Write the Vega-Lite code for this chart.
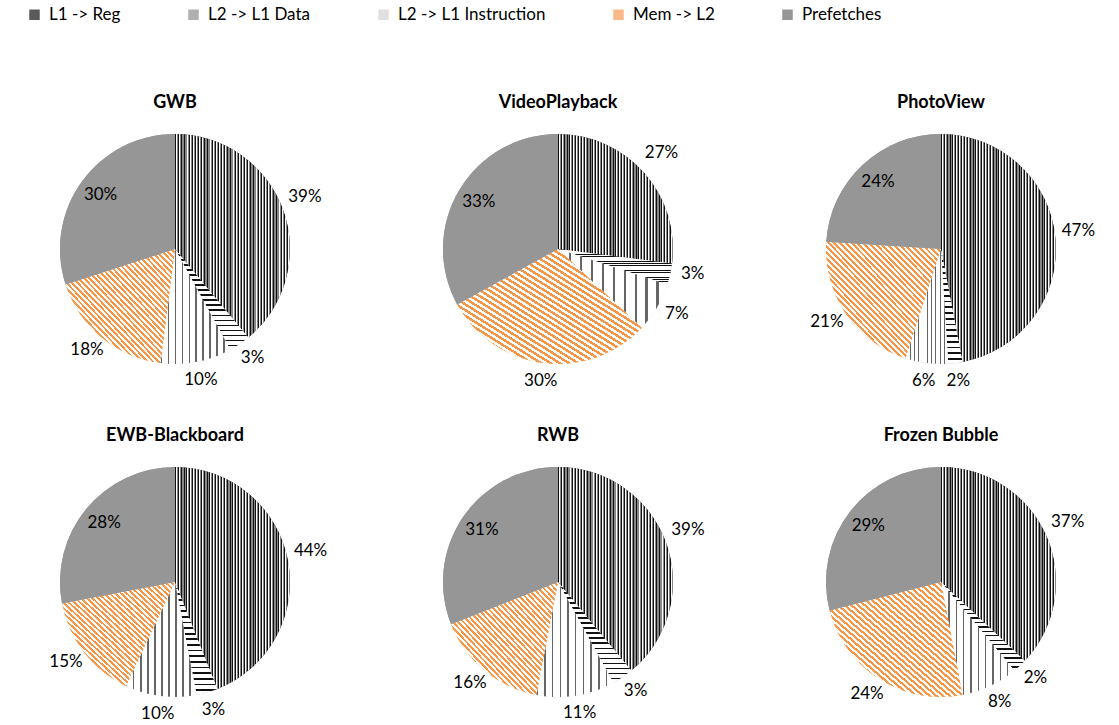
{
"$schema": "https://vega.github.io/schema/vega-lite/v6.json",
"padding": {"left": 15, "top": 6, "right": 5, "bottom": 5},
"bounds": "flush",
"config": {"view": {"stroke": null}, "font": "Lato"},
"data": {"values": [
{"chart":"GWB","type":"L1 -> Reg","pct":0.39},
{"chart":"GWB","type":"L2 -> L1 Data","pct":0.03},
{"chart":"GWB","type":"L2 -> L1 Instruction","pct":0.10},
{"chart":"GWB","type":"Mem -> L2","pct":0.18},
{"chart":"GWB","type":"Prefetches","pct":0.30},
{"chart":"VideoPlayback","type":"L1 -> Reg","pct":0.27},
{"chart":"VideoPlayback","type":"L2 -> L1 Data","pct":0.03},
{"chart":"VideoPlayback","type":"L2 -> L1 Instruction","pct":0.07},
{"chart":"VideoPlayback","type":"Mem -> L2","pct":0.30},
{"chart":"VideoPlayback","type":"Prefetches","pct":0.33},
{"chart":"PhotoView","type":"L1 -> Reg","pct":0.47},
{"chart":"PhotoView","type":"L2 -> L1 Data","pct":0.02},
{"chart":"PhotoView","type":"L2 -> L1 Instruction","pct":0.06},
{"chart":"PhotoView","type":"Mem -> L2","pct":0.21},
{"chart":"PhotoView","type":"Prefetches","pct":0.24},
{"chart":"EWB-Blackboard","type":"L1 -> Reg","pct":0.44},
{"chart":"EWB-Blackboard","type":"L2 -> L1 Data","pct":0.03},
{"chart":"EWB-Blackboard","type":"L2 -> L1 Instruction","pct":0.10},
{"chart":"EWB-Blackboard","type":"Mem -> L2","pct":0.15},
{"chart":"EWB-Blackboard","type":"Prefetches","pct":0.28},
{"chart":"RWB","type":"L1 -> Reg","pct":0.39},
{"chart":"RWB","type":"L2 -> L1 Data","pct":0.03},
{"chart":"RWB","type":"L2 -> L1 Instruction","pct":0.11},
{"chart":"RWB","type":"Mem -> L2","pct":0.16},
{"chart":"RWB","type":"Prefetches","pct":0.31},
{"chart":"Frozen Bubble","type":"L1 -> Reg","pct":0.37},
{"chart":"Frozen Bubble","type":"L2 -> L1 Data","pct":0.02},
{"chart":"Frozen Bubble","type":"L2 -> L1 Instruction","pct":0.08},
{"chart":"Frozen Bubble","type":"Mem -> L2","pct":0.24},
{"chart":"Frozen Bubble","type":"Prefetches","pct":0.29}
]},
"facet": {"field": "chart", "type": "nominal", "sort": ["GWB","VideoPlayback","PhotoView","EWB-Blackboard","RWB","Frozen Bubble"],
  "header": {"title": null, "labelFont": "Lato", "labelFontSize": 18, "labelFontWeight": "bold", "labelColor": "#000", "labelPadding": 6}},
"columns": 3,
"spacing": {"column": 63, "row": 71},
"spec": {
"width": 320, "height": 262,
"encoding": {
  "theta": {"field": "pct", "type": "quantitative", "stack": true},
  "order": {"field": "type", "type": "ordinal", "sort": "ascending"}
},
"layer": [
{"mark": {"type": "arc", "outerRadius": 115},
 "encoding": {"fill": {"field": "type", "type": "nominal",
  "scale": {"domain": ["L1 -> Reg","L2 -> L1 Data","L2 -> L1 Instruction","Mem -> L2","Prefetches"],
   "range": ["#5a5a5a","#b0b0b0","#e0e0e0","#F9B888","#969696"]},
  "legend": {"title": null, "orient": "none", "legendX": 11, "legendY": -112, "direction": "horizontal",
   "symbolType": "square", "symbolSize": 110, "symbolStrokeWidth": 0, "labelFont": "Lato", "labelFontSize": 17,
   "labelColor": "#000", "columnPadding": 64, "labelOffset": 6, "padding": 0}}}},
{"mark": {"type": "arc", "outerRadius": 115},
 "encoding": {"detail": {"field": "type"},
  "fill": {"condition": [
{"test": "datum.type === 'L1 -> Reg'", "value": {"gradient":"linear","x1":0,"y1":0,"x2":1,"y2":0,"stops":[
{"offset":0,"color":"#111"},{"offset":0.008,"color":"#111"},{"offset":0.008,"color":"#fff"},{"offset":0.015,"color":"#fff"},{"offset":0.015,"color":"#888"},{"offset":0.025,"color":"#888"},
{"offset":0.025,"color":"#111"},{"offset":0.033,"color":"#111"},{"offset":0.033,"color":"#fff"},{"offset":0.04,"color":"#fff"},{"offset":0.04,"color":"#888"},{"offset":0.05,"color":"#888"},
{"offset":0.05,"color":"#111"},{"offset":0.058,"color":"#111"},{"offset":0.058,"color":"#fff"},{"offset":0.065,"color":"#fff"},{"offset":0.065,"color":"#888"},{"offset":0.075,"color":"#888"},
{"offset":0.075,"color":"#111"},{"offset":0.083,"color":"#111"},{"offset":0.083,"color":"#fff"},{"offset":0.09,"color":"#fff"},{"offset":0.09,"color":"#888"},{"offset":0.1,"color":"#888"},
{"offset":0.1,"color":"#111"},{"offset":0.108,"color":"#111"},{"offset":0.108,"color":"#fff"},{"offset":0.115,"color":"#fff"},{"offset":0.115,"color":"#888"},{"offset":0.125,"color":"#888"},
{"offset":0.125,"color":"#111"},{"offset":0.133,"color":"#111"},{"offset":0.133,"color":"#fff"},{"offset":0.14,"color":"#fff"},{"offset":0.14,"color":"#888"},{"offset":0.15,"color":"#888"},
{"offset":0.15,"color":"#111"},{"offset":0.158,"color":"#111"},{"offset":0.158,"color":"#fff"},{"offset":0.165,"color":"#fff"},{"offset":0.165,"color":"#888"},{"offset":0.175,"color":"#888"},
{"offset":0.175,"color":"#111"},{"offset":0.183,"color":"#111"},{"offset":0.183,"color":"#fff"},{"offset":0.19,"color":"#fff"},{"offset":0.19,"color":"#888"},{"offset":0.2,"color":"#888"},
{"offset":0.2,"color":"#111"},{"offset":0.208,"color":"#111"},{"offset":0.208,"color":"#fff"},{"offset":0.215,"color":"#fff"},{"offset":0.215,"color":"#888"},{"offset":0.225,"color":"#888"},
{"offset":0.225,"color":"#111"},{"offset":0.233,"color":"#111"},{"offset":0.233,"color":"#fff"},{"offset":0.24,"color":"#fff"},{"offset":0.24,"color":"#888"},{"offset":0.25,"color":"#888"},
{"offset":0.25,"color":"#111"},{"offset":0.258,"color":"#111"},{"offset":0.258,"color":"#fff"},{"offset":0.265,"color":"#fff"},{"offset":0.265,"color":"#888"},{"offset":0.275,"color":"#888"},
{"offset":0.275,"color":"#111"},{"offset":0.283,"color":"#111"},{"offset":0.283,"color":"#fff"},{"offset":0.29,"color":"#fff"},{"offset":0.29,"color":"#888"},{"offset":0.3,"color":"#888"},
{"offset":0.3,"color":"#111"},{"offset":0.308,"color":"#111"},{"offset":0.308,"color":"#fff"},{"offset":0.315,"color":"#fff"},{"offset":0.315,"color":"#888"},{"offset":0.325,"color":"#888"},
{"offset":0.325,"color":"#111"},{"offset":0.333,"color":"#111"},{"offset":0.333,"color":"#fff"},{"offset":0.34,"color":"#fff"},{"offset":0.34,"color":"#888"},{"offset":0.35,"color":"#888"},
{"offset":0.35,"color":"#111"},{"offset":0.358,"color":"#111"},{"offset":0.358,"color":"#fff"},{"offset":0.365,"color":"#fff"},{"offset":0.365,"color":"#888"},{"offset":0.375,"color":"#888"},
{"offset":0.375,"color":"#111"},{"offset":0.383,"color":"#111"},{"offset":0.383,"color":"#fff"},{"offset":0.39,"color":"#fff"},{"offset":0.39,"color":"#888"},{"offset":0.4,"color":"#888"},
{"offset":0.4,"color":"#111"},{"offset":0.408,"color":"#111"},{"offset":0.408,"color":"#fff"},{"offset":0.415,"color":"#fff"},{"offset":0.415,"color":"#888"},{"offset":0.425,"color":"#888"},
{"offset":0.425,"color":"#111"},{"offset":0.433,"color":"#111"},{"offset":0.433,"color":"#fff"},{"offset":0.44,"color":"#fff"},{"offset":0.44,"color":"#888"},{"offset":0.45,"color":"#888"},
{"offset":0.45,"color":"#111"},{"offset":0.458,"color":"#111"},{"offset":0.458,"color":"#fff"},{"offset":0.465,"color":"#fff"},{"offset":0.465,"color":"#888"},{"offset":0.475,"color":"#888"},
{"offset":0.475,"color":"#111"},{"offset":0.483,"color":"#111"},{"offset":0.483,"color":"#fff"},{"offset":0.49,"color":"#fff"},{"offset":0.49,"color":"#888"},{"offset":0.5,"color":"#888"},
{"offset":0.5,"color":"#111"},{"offset":0.508,"color":"#111"},{"offset":0.508,"color":"#fff"},{"offset":0.515,"color":"#fff"},{"offset":0.515,"color":"#888"},{"offset":0.525,"color":"#888"},
{"offset":0.525,"color":"#111"},{"offset":0.533,"color":"#111"},{"offset":0.533,"color":"#fff"},{"offset":0.54,"color":"#fff"},{"offset":0.54,"color":"#888"},{"offset":0.55,"color":"#888"},
{"offset":0.55,"color":"#111"},{"offset":0.558,"color":"#111"},{"offset":0.558,"color":"#fff"},{"offset":0.565,"color":"#fff"},{"offset":0.565,"color":"#888"},{"offset":0.575,"color":"#888"},
{"offset":0.575,"color":"#111"},{"offset":0.583,"color":"#111"},{"offset":0.583,"color":"#fff"},{"offset":0.59,"color":"#fff"},{"offset":0.59,"color":"#888"},{"offset":0.6,"color":"#888"},
{"offset":0.6,"color":"#111"},{"offset":0.608,"color":"#111"},{"offset":0.608,"color":"#fff"},{"offset":0.615,"color":"#fff"},{"offset":0.615,"color":"#888"},{"offset":0.625,"color":"#888"},
{"offset":0.625,"color":"#111"},{"offset":0.633,"color":"#111"},{"offset":0.633,"color":"#fff"},{"offset":0.64,"color":"#fff"},{"offset":0.64,"color":"#888"},{"offset":0.65,"color":"#888"},
{"offset":0.65,"color":"#111"},{"offset":0.658,"color":"#111"},{"offset":0.658,"color":"#fff"},{"offset":0.665,"color":"#fff"},{"offset":0.665,"color":"#888"},{"offset":0.675,"color":"#888"},
{"offset":0.675,"color":"#111"},{"offset":0.683,"color":"#111"},{"offset":0.683,"color":"#fff"},{"offset":0.69,"color":"#fff"},{"offset":0.69,"color":"#888"},{"offset":0.7,"color":"#888"},
{"offset":0.7,"color":"#111"},{"offset":0.708,"color":"#111"},{"offset":0.708,"color":"#fff"},{"offset":0.715,"color":"#fff"},{"offset":0.715,"color":"#888"},{"offset":0.725,"color":"#888"},
{"offset":0.725,"color":"#111"},{"offset":0.733,"color":"#111"},{"offset":0.733,"color":"#fff"},{"offset":0.74,"color":"#fff"},{"offset":0.74,"color":"#888"},{"offset":0.75,"color":"#888"},
{"offset":0.75,"color":"#111"},{"offset":0.758,"color":"#111"},{"offset":0.758,"color":"#fff"},{"offset":0.765,"color":"#fff"},{"offset":0.765,"color":"#888"},{"offset":0.775,"color":"#888"},
{"offset":0.775,"color":"#111"},{"offset":0.783,"color":"#111"},{"offset":0.783,"color":"#fff"},{"offset":0.79,"color":"#fff"},{"offset":0.79,"color":"#888"},{"offset":0.8,"color":"#888"},
{"offset":0.8,"color":"#111"},{"offset":0.808,"color":"#111"},{"offset":0.808,"color":"#fff"},{"offset":0.815,"color":"#fff"},{"offset":0.815,"color":"#888"},{"offset":0.825,"color":"#888"},
{"offset":0.825,"color":"#111"},{"offset":0.833,"color":"#111"},{"offset":0.833,"color":"#fff"},{"offset":0.84,"color":"#fff"},{"offset":0.84,"color":"#888"},{"offset":0.85,"color":"#888"},
{"offset":0.85,"color":"#111"},{"offset":0.858,"color":"#111"},{"offset":0.858,"color":"#fff"},{"offset":0.865,"color":"#fff"},{"offset":0.865,"color":"#888"},{"offset":0.875,"color":"#888"},
{"offset":0.875,"color":"#111"},{"offset":0.883,"color":"#111"},{"offset":0.883,"color":"#fff"},{"offset":0.89,"color":"#fff"},{"offset":0.89,"color":"#888"},{"offset":0.9,"color":"#888"},
{"offset":0.9,"color":"#111"},{"offset":0.908,"color":"#111"},{"offset":0.908,"color":"#fff"},{"offset":0.915,"color":"#fff"},{"offset":0.915,"color":"#888"},{"offset":0.925,"color":"#888"},
{"offset":0.925,"color":"#111"},{"offset":0.933,"color":"#111"},{"offset":0.933,"color":"#fff"},{"offset":0.94,"color":"#fff"},{"offset":0.94,"color":"#888"},{"offset":0.95,"color":"#888"},
{"offset":0.95,"color":"#111"},{"offset":0.958,"color":"#111"},{"offset":0.958,"color":"#fff"},{"offset":0.965,"color":"#fff"},{"offset":0.965,"color":"#888"},{"offset":0.975,"color":"#888"},
{"offset":0.975,"color":"#111"},{"offset":0.983,"color":"#111"},{"offset":0.983,"color":"#fff"},{"offset":0.99,"color":"#fff"},{"offset":0.99,"color":"#888"},{"offset":1,"color":"#888"}]}},
{"test": "datum.type === 'L2 -> L1 Data'", "value": {"gradient":"linear","x1":0,"y1":0,"x2":0,"y2":1,"stops":[
{"offset":0,"color":"#111"},{"offset":0.015,"color":"#111"},{"offset":0.015,"color":"#fff"},{"offset":0.05,"color":"#fff"},
{"offset":0.05,"color":"#111"},{"offset":0.065,"color":"#111"},{"offset":0.065,"color":"#fff"},{"offset":0.1,"color":"#fff"},
{"offset":0.1,"color":"#111"},{"offset":0.115,"color":"#111"},{"offset":0.115,"color":"#fff"},{"offset":0.15,"color":"#fff"},
{"offset":0.15,"color":"#111"},{"offset":0.165,"color":"#111"},{"offset":0.165,"color":"#fff"},{"offset":0.2,"color":"#fff"},
{"offset":0.2,"color":"#111"},{"offset":0.215,"color":"#111"},{"offset":0.215,"color":"#fff"},{"offset":0.25,"color":"#fff"},
{"offset":0.25,"color":"#111"},{"offset":0.265,"color":"#111"},{"offset":0.265,"color":"#fff"},{"offset":0.3,"color":"#fff"},
{"offset":0.3,"color":"#111"},{"offset":0.315,"color":"#111"},{"offset":0.315,"color":"#fff"},{"offset":0.35,"color":"#fff"},
{"offset":0.35,"color":"#111"},{"offset":0.365,"color":"#111"},{"offset":0.365,"color":"#fff"},{"offset":0.4,"color":"#fff"},
{"offset":0.4,"color":"#111"},{"offset":0.415,"color":"#111"},{"offset":0.415,"color":"#fff"},{"offset":0.45,"color":"#fff"},
{"offset":0.45,"color":"#111"},{"offset":0.465,"color":"#111"},{"offset":0.465,"color":"#fff"},{"offset":0.5,"color":"#fff"},
{"offset":0.5,"color":"#111"},{"offset":0.515,"color":"#111"},{"offset":0.515,"color":"#fff"},{"offset":0.55,"color":"#fff"},
{"offset":0.55,"color":"#111"},{"offset":0.565,"color":"#111"},{"offset":0.565,"color":"#fff"},{"offset":0.6,"color":"#fff"},
{"offset":0.6,"color":"#111"},{"offset":0.615,"color":"#111"},{"offset":0.615,"color":"#fff"},{"offset":0.65,"color":"#fff"},
{"offset":0.65,"color":"#111"},{"offset":0.665,"color":"#111"},{"offset":0.665,"color":"#fff"},{"offset":0.7,"color":"#fff"},
{"offset":0.7,"color":"#111"},{"offset":0.715,"color":"#111"},{"offset":0.715,"color":"#fff"},{"offset":0.75,"color":"#fff"},
{"offset":0.75,"color":"#111"},{"offset":0.765,"color":"#111"},{"offset":0.765,"color":"#fff"},{"offset":0.8,"color":"#fff"},
{"offset":0.8,"color":"#111"},{"offset":0.815,"color":"#111"},{"offset":0.815,"color":"#fff"},{"offset":0.85,"color":"#fff"},
{"offset":0.85,"color":"#111"},{"offset":0.865,"color":"#111"},{"offset":0.865,"color":"#fff"},{"offset":0.9,"color":"#fff"},
{"offset":0.9,"color":"#111"},{"offset":0.915,"color":"#111"},{"offset":0.915,"color":"#fff"},{"offset":0.95,"color":"#fff"},
{"offset":0.95,"color":"#111"},{"offset":0.965,"color":"#111"},{"offset":0.965,"color":"#fff"},{"offset":1,"color":"#fff"}]}},
{"test": "datum.type === 'L2 -> L1 Instruction'", "value": {"gradient":"linear","x1":0,"y1":0,"x2":1,"y2":0,"stops":[
{"offset":0,"color":"#666"},{"offset":0.02,"color":"#666"},{"offset":0.02,"color":"#fff"},{"offset":0.1,"color":"#fff"},
{"offset":0.1,"color":"#666"},{"offset":0.12,"color":"#666"},{"offset":0.12,"color":"#fff"},{"offset":0.2,"color":"#fff"},
{"offset":0.2,"color":"#666"},{"offset":0.22,"color":"#666"},{"offset":0.22,"color":"#fff"},{"offset":0.3,"color":"#fff"},
{"offset":0.3,"color":"#666"},{"offset":0.32,"color":"#666"},{"offset":0.32,"color":"#fff"},{"offset":0.4,"color":"#fff"},
{"offset":0.4,"color":"#666"},{"offset":0.42,"color":"#666"},{"offset":0.42,"color":"#fff"},{"offset":0.5,"color":"#fff"},
{"offset":0.5,"color":"#666"},{"offset":0.52,"color":"#666"},{"offset":0.52,"color":"#fff"},{"offset":0.6,"color":"#fff"},
{"offset":0.6,"color":"#666"},{"offset":0.62,"color":"#666"},{"offset":0.62,"color":"#fff"},{"offset":0.7,"color":"#fff"},
{"offset":0.7,"color":"#666"},{"offset":0.72,"color":"#666"},{"offset":0.72,"color":"#fff"},{"offset":0.8,"color":"#fff"},
{"offset":0.8,"color":"#666"},{"offset":0.82,"color":"#666"},{"offset":0.82,"color":"#fff"},{"offset":0.9,"color":"#fff"},
{"offset":0.9,"color":"#666"},{"offset":0.92,"color":"#666"},{"offset":0.92,"color":"#fff"},{"offset":1,"color":"#fff"}]}},
{"test": "datum.type === 'Mem -> L2'", "value": {"gradient":"linear","x1":0,"y1":1,"x2":1,"y2":0,"stops":[
{"offset":0,"color":"#F79646"},{"offset":0.0125,"color":"#F79646"},{"offset":0.0125,"color":"#fff"},{"offset":0.025,"color":"#fff"},
{"offset":0.025,"color":"#F79646"},{"offset":0.0375,"color":"#F79646"},{"offset":0.0375,"color":"#fff"},{"offset":0.05,"color":"#fff"},
{"offset":0.05,"color":"#F79646"},{"offset":0.0625,"color":"#F79646"},{"offset":0.0625,"color":"#fff"},{"offset":0.075,"color":"#fff"},
{"offset":0.075,"color":"#F79646"},{"offset":0.0875,"color":"#F79646"},{"offset":0.0875,"color":"#fff"},{"offset":0.1,"color":"#fff"},
{"offset":0.1,"color":"#F79646"},{"offset":0.1125,"color":"#F79646"},{"offset":0.1125,"color":"#fff"},{"offset":0.125,"color":"#fff"},
{"offset":0.125,"color":"#F79646"},{"offset":0.1375,"color":"#F79646"},{"offset":0.1375,"color":"#fff"},{"offset":0.15,"color":"#fff"},
{"offset":0.15,"color":"#F79646"},{"offset":0.1625,"color":"#F79646"},{"offset":0.1625,"color":"#fff"},{"offset":0.175,"color":"#fff"},
{"offset":0.175,"color":"#F79646"},{"offset":0.1875,"color":"#F79646"},{"offset":0.1875,"color":"#fff"},{"offset":0.2,"color":"#fff"},
{"offset":0.2,"color":"#F79646"},{"offset":0.2125,"color":"#F79646"},{"offset":0.2125,"color":"#fff"},{"offset":0.225,"color":"#fff"},
{"offset":0.225,"color":"#F79646"},{"offset":0.2375,"color":"#F79646"},{"offset":0.2375,"color":"#fff"},{"offset":0.25,"color":"#fff"},
{"offset":0.25,"color":"#F79646"},{"offset":0.2625,"color":"#F79646"},{"offset":0.2625,"color":"#fff"},{"offset":0.275,"color":"#fff"},
{"offset":0.275,"color":"#F79646"},{"offset":0.2875,"color":"#F79646"},{"offset":0.2875,"color":"#fff"},{"offset":0.3,"color":"#fff"},
{"offset":0.3,"color":"#F79646"},{"offset":0.3125,"color":"#F79646"},{"offset":0.3125,"color":"#fff"},{"offset":0.325,"color":"#fff"},
{"offset":0.325,"color":"#F79646"},{"offset":0.3375,"color":"#F79646"},{"offset":0.3375,"color":"#fff"},{"offset":0.35,"color":"#fff"},
{"offset":0.35,"color":"#F79646"},{"offset":0.3625,"color":"#F79646"},{"offset":0.3625,"color":"#fff"},{"offset":0.375,"color":"#fff"},
{"offset":0.375,"color":"#F79646"},{"offset":0.3875,"color":"#F79646"},{"offset":0.3875,"color":"#fff"},{"offset":0.4,"color":"#fff"},
{"offset":0.4,"color":"#F79646"},{"offset":0.4125,"color":"#F79646"},{"offset":0.4125,"color":"#fff"},{"offset":0.425,"color":"#fff"},
{"offset":0.425,"color":"#F79646"},{"offset":0.4375,"color":"#F79646"},{"offset":0.4375,"color":"#fff"},{"offset":0.45,"color":"#fff"},
{"offset":0.45,"color":"#F79646"},{"offset":0.4625,"color":"#F79646"},{"offset":0.4625,"color":"#fff"},{"offset":0.475,"color":"#fff"},
{"offset":0.475,"color":"#F79646"},{"offset":0.4875,"color":"#F79646"},{"offset":0.4875,"color":"#fff"},{"offset":0.5,"color":"#fff"},
{"offset":0.5,"color":"#F79646"},{"offset":0.5125,"color":"#F79646"},{"offset":0.5125,"color":"#fff"},{"offset":0.525,"color":"#fff"},
{"offset":0.525,"color":"#F79646"},{"offset":0.5375,"color":"#F79646"},{"offset":0.5375,"color":"#fff"},{"offset":0.55,"color":"#fff"},
{"offset":0.55,"color":"#F79646"},{"offset":0.5625,"color":"#F79646"},{"offset":0.5625,"color":"#fff"},{"offset":0.575,"color":"#fff"},
{"offset":0.575,"color":"#F79646"},{"offset":0.5875,"color":"#F79646"},{"offset":0.5875,"color":"#fff"},{"offset":0.6,"color":"#fff"},
{"offset":0.6,"color":"#F79646"},{"offset":0.6125,"color":"#F79646"},{"offset":0.6125,"color":"#fff"},{"offset":0.625,"color":"#fff"},
{"offset":0.625,"color":"#F79646"},{"offset":0.6375,"color":"#F79646"},{"offset":0.6375,"color":"#fff"},{"offset":0.65,"color":"#fff"},
{"offset":0.65,"color":"#F79646"},{"offset":0.6625,"color":"#F79646"},{"offset":0.6625,"color":"#fff"},{"offset":0.675,"color":"#fff"},
{"offset":0.675,"color":"#F79646"},{"offset":0.6875,"color":"#F79646"},{"offset":0.6875,"color":"#fff"},{"offset":0.7,"color":"#fff"},
{"offset":0.7,"color":"#F79646"},{"offset":0.7125,"color":"#F79646"},{"offset":0.7125,"color":"#fff"},{"offset":0.725,"color":"#fff"},
{"offset":0.725,"color":"#F79646"},{"offset":0.7375,"color":"#F79646"},{"offset":0.7375,"color":"#fff"},{"offset":0.75,"color":"#fff"},
{"offset":0.75,"color":"#F79646"},{"offset":0.7625,"color":"#F79646"},{"offset":0.7625,"color":"#fff"},{"offset":0.775,"color":"#fff"},
{"offset":0.775,"color":"#F79646"},{"offset":0.7875,"color":"#F79646"},{"offset":0.7875,"color":"#fff"},{"offset":0.8,"color":"#fff"},
{"offset":0.8,"color":"#F79646"},{"offset":0.8125,"color":"#F79646"},{"offset":0.8125,"color":"#fff"},{"offset":0.825,"color":"#fff"},
{"offset":0.825,"color":"#F79646"},{"offset":0.8375,"color":"#F79646"},{"offset":0.8375,"color":"#fff"},{"offset":0.85,"color":"#fff"},
{"offset":0.85,"color":"#F79646"},{"offset":0.8625,"color":"#F79646"},{"offset":0.8625,"color":"#fff"},{"offset":0.875,"color":"#fff"},
{"offset":0.875,"color":"#F79646"},{"offset":0.8875,"color":"#F79646"},{"offset":0.8875,"color":"#fff"},{"offset":0.9,"color":"#fff"},
{"offset":0.9,"color":"#F79646"},{"offset":0.9125,"color":"#F79646"},{"offset":0.9125,"color":"#fff"},{"offset":0.925,"color":"#fff"},
{"offset":0.925,"color":"#F79646"},{"offset":0.9375,"color":"#F79646"},{"offset":0.9375,"color":"#fff"},{"offset":0.95,"color":"#fff"},
{"offset":0.95,"color":"#F79646"},{"offset":0.9625,"color":"#F79646"},{"offset":0.9625,"color":"#fff"},{"offset":0.975,"color":"#fff"},
{"offset":0.975,"color":"#F79646"},{"offset":0.9875,"color":"#F79646"},{"offset":0.9875,"color":"#fff"},{"offset":1,"color":"#fff"}]}}
  ], "value": "#969696"}}},
{"mark": {"type": "text", "radius": 138, "dy": -5, "font": "Lato", "fontSize": 17, "fill": "#000"},
 "encoding": {"detail": {"field": "type"},
  "text": {"condition": {"test": "datum.type !== 'Prefetches'", "field": "pct", "type": "quantitative", "format": ".0%"}, "value": ""}}},
{"mark": {"type": "text", "radius": 92, "font": "Lato", "fontSize": 17, "fill": "#000"},
 "encoding": {"detail": {"field": "type"},
  "text": {"condition": {"test": "datum.type === 'Prefetches'", "field": "pct", "type": "quantitative", "format": ".0%"}, "value": ""}}}
]
}
}
